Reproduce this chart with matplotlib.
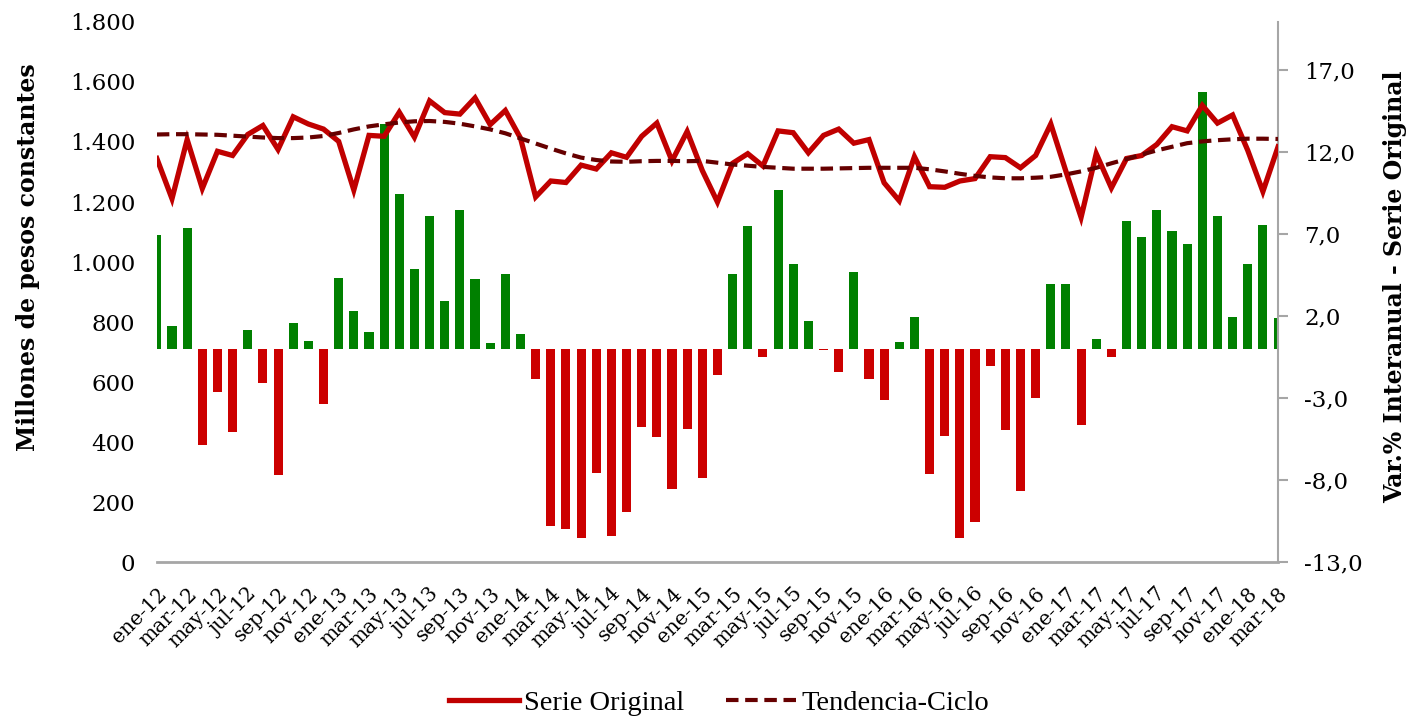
import matplotlib.pyplot as plt
import numpy as np

# --- datos ---
meses = ['ene', 'feb', 'mar', 'abr', 'may', 'jun', 'jul', 'ago', 'sep', 'oct', 'nov', 'dic']
periodos = [f"{m}-{a}" for a in range(12, 19) for m in meses][:75]

serie_original = [
    1345, 1211, 1408, 1245, 1369, 1355, 1425, 1455, 1375, 1484, 1460, 1443,
    1402, 1240, 1422, 1419, 1499, 1416, 1537, 1498, 1493, 1547, 1458, 1505,
    1413, 1217, 1270, 1265, 1323, 1310, 1364, 1349, 1419, 1463, 1337, 1435,
    1305, 1200, 1329, 1361, 1320, 1437, 1431, 1364, 1422, 1443, 1396, 1408,
    1264, 1204, 1351, 1251, 1249, 1270, 1278, 1351, 1348, 1314, 1355, 1460,
    1302, 1149, 1361, 1247, 1345, 1355, 1392, 1451, 1437, 1522, 1463, 1490,
    1372, 1235, 1384,
]

tendencia_ciclo = [
    1425, 1426, 1426, 1425, 1424, 1421, 1418, 1415, 1413, 1413, 1415, 1420,
    1430, 1442, 1452, 1459, 1465, 1469, 1470, 1467, 1461, 1452, 1442, 1429,
    1412, 1395, 1378, 1362, 1348, 1340, 1335, 1334, 1336, 1337, 1337, 1336,
    1337, 1331, 1325, 1321, 1317, 1314, 1311, 1311, 1311, 1312, 1313, 1314,
    1314, 1314, 1314, 1309, 1302, 1294, 1287, 1282, 1279, 1279, 1281, 1284,
    1292, 1302, 1314, 1329, 1343, 1358, 1372, 1384, 1396, 1402, 1406, 1409,
    1411, 1411, 1410,
]

var_interanual = [
    6.92, 1.42, 7.35, -5.89, -2.64, -5.09, 1.16, -2.09, -7.72, 1.59, 0.49, -3.37,
    4.30, 2.28, 1.05, 13.71, 9.44, 4.84, 8.08, 2.94, 8.45, 4.23, 0.37, 4.54,
    0.92, -1.87, -10.79, -11.01, -11.56, -7.57, -11.44, -9.97, -4.77, -5.37, -8.56, -4.88,
    -7.89, -1.57, 4.54, 7.48, -0.47, 9.67, 5.16, 1.72, -0.05, -1.44, 4.66, -1.81,
    -3.10, 0.43, 1.96, -7.63, -5.31, -11.56, -10.58, -1.07, -4.94, -8.68, -2.99, 3.98,
    3.93, -4.64, 0.62, -0.47, 7.78, 6.81, 8.45, 7.18, 6.38, 15.69, 8.08, 1.96,
    5.16, 7.55, 1.89,
]

ticks_izq = list(range(0, 1801, 200))
ticks_der = [-13, -8, -3, 2, 7, 12, 17]

# --- grafico ---
plt.rcParams['font.family'] = 'DejaVu Serif'

fig = plt.figure(figsize=(14.13, 7.21), dpi=100)
ax = fig.add_axes([0.111, 0.2205, 0.7935, 0.749])
ax2 = ax.twinx()

x = np.arange(len(periodos))
colores = ['#008000' if v >= 0 else '#CC0000' for v in var_interanual]
ax2.bar(x, var_interanual, width=0.6, color=colores)

l1, = ax.plot(x, serie_original, color='#C00000', lw=3.8, solid_joinstyle='miter',
              label='Serie Original')
l2, = ax.plot(x, tendencia_ciclo, color='#660000', lw=3.0, dashes=(3, 1.6),
              label='Tendencia-Ciclo')

# lineas por encima de las barras
ax.set_zorder(ax2.get_zorder() + 1)
ax.patch.set_visible(False)

ax.set_xlim(0, len(periodos) - 1)
ax.set_ylim(0, 1800)
ax2.set_ylim(-13, 19.93)

ax.set_yticks(ticks_izq)
ax.set_yticklabels([f"{v:,}".replace(',', '.') for v in ticks_izq])
ax2.set_yticks(ticks_der)
ax2.set_yticklabels([f"{v:.1f}".replace('.', ',') for v in ticks_der])

ax.set_xticks(x[::2])
ax.set_xticklabels(periodos[::2], rotation=45, ha='right', rotation_mode='anchor')

for a in (ax, ax2):
    for s in ('top', 'left'):
        a.spines[s].set_visible(False)
ax.spines['right'].set_visible(False)
ax2.spines['right'].set_color('#A6A6A6')
ax2.spines['right'].set_linewidth(1.5)
ax2.spines['bottom'].set_visible(False)
ax.spines['bottom'].set_color('#A6A6A6')
ax.spines['bottom'].set_linewidth(2)

ax.tick_params(axis='x', length=0, labelsize=14.5, pad=16)
ax.tick_params(axis='y', length=0, labelsize=16.5, pad=15.5)
ax2.tick_params(axis='y', length=7, width=1.5, color='#A6A6A6', labelsize=16.5, pad=12)

ax.set_ylabel('Millones de pesos constantes', fontsize=17, fontweight='bold')
ax.yaxis.set_label_coords(-0.104, 0.565)
ax2.set_ylabel('Var.% Interanual - Serie Original', fontsize=17, fontweight='bold')
ax2.yaxis.set_label_coords(1.094, 0.509)

fig.legend(handles=[l1, l2], loc='center', bbox_to_anchor=(0.509, 0.025), ncol=2,
           frameon=False, handlelength=2.45, handletextpad=0.18, columnspacing=1.47,
           prop={'family': 'Liberation Serif', 'size': 20.5})

fig.savefig('out.png', dpi=100)
